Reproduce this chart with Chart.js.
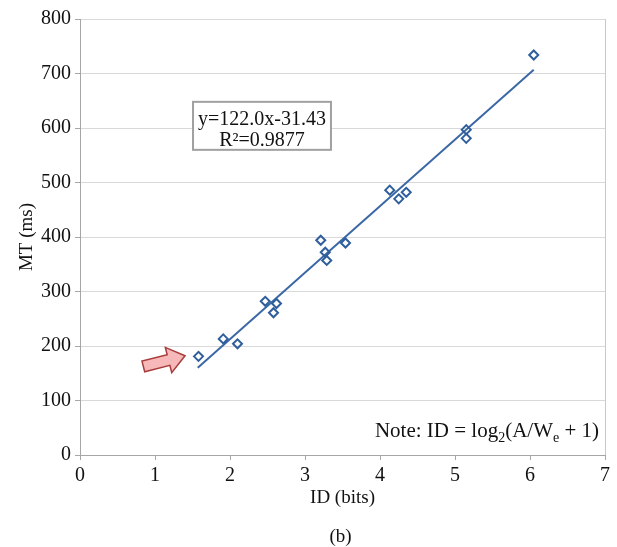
<!DOCTYPE html>
<html>
<head>
<meta charset="utf-8">
<script src="https://cdn.jsdelivr.net/npm/chart.js@4/dist/chart.umd.min.js"></script>
<style>
  html, body { margin: 0; padding: 0; background: #fff; }
  #wrap { width: 617px; height: 547px; }
</style>
</head>
<body>
<div id="wrap"><canvas id="chart"></canvas></div>
<script>
// measured points: index of difficulty (bits) vs movement time (ms)
const idBits = [1.58, 1.91, 2.10, 2.47, 2.58, 2.62, 3.21, 3.27, 3.29, 3.54, 4.13, 4.25, 4.35, 5.15, 5.15, 6.05];
const mtMs   = [181, 213, 204, 282, 261, 278, 394, 372, 357, 389, 486, 470, 482, 597, 581, 734];

// fitted trend line end points
const fitX = [1.57, 6.05];
const fitY = [160, 707];

const xTicks = [0, 1, 2, 3, 4, 5, 6, 7];
const yTicks = [0, 100, 200, 300, 400, 500, 600, 700, 800];

const eqLines = ['y=122.0x-31.43', 'R\u00B2=0.9877'];
const eqBoxAt = [1.507, 648];   // top-left of the equation box, in data units
const arrowTip = [1.40, 182];

const serif = "'Liberation Serif', 'Times New Roman', serif";
const gridCol = '#d9d9d9';
const axisCol = '#a6a6a6';
const blue = '#2f5e9c';

const extras = {
  id: 'extras',
  afterDatasetsDraw(chart) {
    const ctx = chart.ctx;
    const xs = chart.scales.x, ys = chart.scales.y;
    const area = chart.chartArea;
    ctx.save();

    // right border of the plot
    ctx.strokeStyle = '#c8c8c8';
    ctx.lineWidth = 1;
    ctx.beginPath();
    ctx.moveTo(Math.round(area.right) + 0.5, area.top);
    ctx.lineTo(Math.round(area.right) + 0.5, area.bottom);
    ctx.stroke();

    // equation box
    const bx = xs.getPixelForValue(eqBoxAt[0]);
    const by = ys.getPixelForValue(eqBoxAt[1]);
    ctx.font = '20px ' + serif;
    const w = Math.max(...eqLines.map(t => ctx.measureText(t).width)) + 10;
    const h = 48;
    ctx.fillStyle = '#fff';
    ctx.fillRect(bx, by, w, h);
    ctx.strokeStyle = '#a0a0a0';
    ctx.lineWidth = 2;
    ctx.strokeRect(bx, by, w, h);
    ctx.fillStyle = '#111';
    ctx.textAlign = 'center';
    ctx.textBaseline = 'alphabetic';
    ctx.fillText(eqLines[0], bx + w / 2, by + 23);
    ctx.fillText(eqLines[1], bx + w / 2, by + 44.5);

    // arrow pointing at the first point
    const tx = xs.getPixelForValue(arrowTip[0]);
    const ty = ys.getPixelForValue(arrowTip[1]);
    ctx.save();
    ctx.translate(tx, ty);
    ctx.rotate(-0.25);
    ctx.beginPath();
    ctx.moveTo(0, 0);
    ctx.lineTo(-17, -13);
    ctx.lineTo(-17, -5.5);
    ctx.lineTo(-43, -5.5);
    ctx.lineTo(-43, 5.5);
    ctx.lineTo(-17, 5.5);
    ctx.lineTo(-17, 13);
    ctx.closePath();
    ctx.fillStyle = '#f6b8b8';
    ctx.fill();
    ctx.strokeStyle = '#a83c3c';
    ctx.lineWidth = 1.5;
    ctx.stroke();
    ctx.restore();

    // note, right aligned, with subscripts
    const parts = [
      { t: 'Note: ID = log', sub: false },
      { t: '2', sub: true },
      { t: '(A/W', sub: false },
      { t: 'e', sub: true },
      { t: ' + 1)', sub: false }
    ];
    const big = '21px ' + serif, small = '14px ' + serif;
    let total = 0;
    parts.forEach(p => { ctx.font = p.sub ? small : big; p.w = ctx.measureText(p.t).width; total += p.w; });
    let x = area.right - 6 - total;
    const base = area.bottom - 18;
    ctx.textAlign = 'left';
    ctx.fillStyle = '#111';
    parts.forEach(p => {
      ctx.font = p.sub ? small : big;
      ctx.fillText(p.t, x, p.sub ? base + 5 : base);
      x += p.w;
    });

    // figure label
    ctx.font = '19px ' + serif;
    ctx.textAlign = 'center';
    ctx.fillText('(b)', (area.left + area.right) / 2 - 2, 542);
    ctx.restore();
  }
};

new Chart(document.getElementById('chart'), {
  type: 'scatter',
  data: {
    datasets: [
      {
        label: 'MT',
        data: idBits.map((v, i) => ({ x: v, y: mtMs[i] })),
        pointStyle: 'rectRot',
        pointRadius: 4.5,
        pointBorderWidth: 2,
        borderColor: blue,
        backgroundColor: 'rgba(255,255,255,0)',
        order: 1
      },
      {
        type: 'line',
        label: 'fit',
        data: fitX.map((v, i) => ({ x: v, y: fitY[i] })),
        borderColor: '#3b68a5',
        borderWidth: 2,
        pointRadius: 0,
        fill: false,
        order: 2
      }
    ]
  },
  options: {
    responsive: true,
    maintainAspectRatio: false,
    animation: false,
    layout: { padding: { left: 0, top: 19, right: 12, bottom: 0 } },
    plugins: {
      legend: { display: false },
      tooltip: { enabled: false }
    },
    scales: {
      x: {
        type: 'linear',
        min: 0, max: 7,
        afterBuildTicks: s => { s.ticks = xTicks.map(v => ({ value: v })); },
        afterFit: s => { s.height = 92; },
        grid: { drawOnChartArea: false, drawTicks: true, tickLength: 5, tickColor: axisCol },
        border: { color: axisCol, width: 1 },
        ticks: { color: '#111', padding: 4, font: { family: serif, size: 20 } },
        title: { display: true, text: 'ID (bits)', color: '#111', font: { family: serif, size: 19 }, padding: { top: 0, bottom: 38 } }
      },
      y: {
        type: 'linear',
        min: 0, max: 800,
        afterBuildTicks: s => { s.ticks = yTicks.map(v => ({ value: v })); },
        afterFit: s => { s.width = 80; },
        grid: { color: gridCol, drawTicks: true, tickLength: 5, tickColor: axisCol },
        border: { color: axisCol, width: 1 },
        ticks: { color: '#111', padding: 4, font: { family: serif, size: 20 } },
        title: { display: true, text: 'MT (ms)', color: '#111', font: { family: serif, size: 19 }, padding: { top: 16, bottom: 0 } }
      }
    }
  },
  plugins: [extras]
});
</script>
</body>
</html>
